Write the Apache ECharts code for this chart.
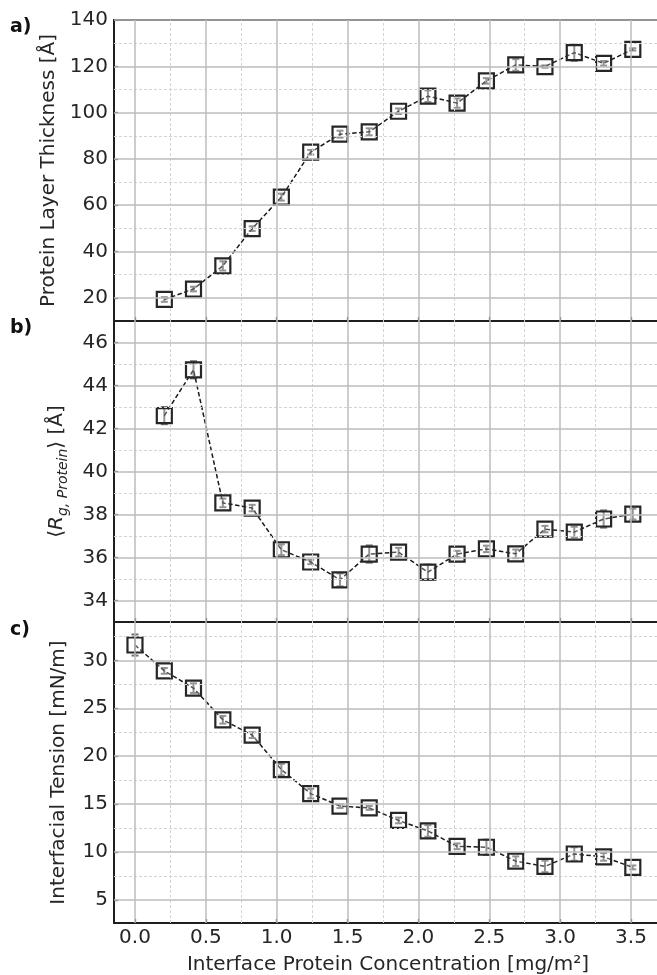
<!DOCTYPE html>
<html>
<head>
<meta charset="utf-8">
<script src="https://cdn.jsdelivr.net/npm/echarts@6/dist/echarts.min.js"></script>
<style>
html,body{margin:0;padding:0;background:#fff;}
#chart{width:657px;height:975px;}
</style>
</head>
<body>
<div id="chart"></div>
<script>
// ---- data ----
const concentrationAB = [0.207,0.413,0.620,0.827,1.033,1.240,1.447,1.653,1.860,2.067,2.273,2.480,2.687,2.893,3.100,3.307,3.513];
const concentrationC = [0.0,0.207,0.413,0.620,0.827,1.033,1.240,1.447,1.653,1.860,2.067,2.273,2.480,2.687,2.893,3.100,3.307,3.513];

const thickness    = [19.3,23.8,33.8,49.9,63.5,82.9,90.7,91.7,100.6,107.1,104.1,113.7,120.6,119.9,125.9,121.3,127.3];
const thicknessErr = [1.0,1.0,2.0,1.0,1.5,1.0,1.5,1.5,1.2,2.5,2.0,1.2,2.5,0.5,3.5,1.0,0.5];

const radius    = [42.60,44.73,38.54,38.30,36.36,35.79,34.96,36.16,36.25,35.32,36.16,36.40,36.17,37.32,37.18,37.79,38.02];
const radiusErr = [0.4,0.4,0.2,0.15,0.25,0.1,0.3,0.4,0.2,0.35,0.15,0.15,0.2,0.15,0.25,0.4,0.25];

const tension    = [31.6,28.9,27.1,23.8,22.2,18.6,16.1,14.8,14.6,13.3,12.2,10.6,10.5,9.05,8.5,9.8,9.5,8.4];
const tensionErr = [1.1,0.3,0.5,0.4,0.3,0.6,0.5,0.2,0.2,0.3,0.6,0.3,0.8,0.5,0.6,0.7,0.4,0.2];

// ---- ticks ----
const xTicks = [0,0.5,1.0,1.5,2.0,2.5,3.0,3.5];
const xMinor = [0.25,0.75,1.25,1.75,2.25,2.75,3.25];
const aTicks = [20,40,60,80,100,120,140];
const aMinor = [30,50,70,90,110,130];
const bTicks = [34,36,38,40,42,44,46];
const bMinor = [35,37,39,41,43,45];
const cTicks = [5,10,15,20,25,30];
const cMinor = [7.5,12.5,17.5,22.5,27.5,32.5];

const FONT = 'DejaVu Sans';
const TXT = '#262626';
const FS = 20;

const gridsPos = [
  {left:114, right:-5, top:20,  height:301},
  {left:114, right:-5, top:321, height:301},
  {left:114, right:-5, top:622, height:301}
];
const grids = gridsPos.map(g => Object.assign({show:true, borderColor:'#1e1e1e', borderWidth:2,
  backgroundColor:'transparent', outerBoundsMode:'none', containLabel:false}, g));

const XMIN = -0.148, XMAX = 3.719;
const SPINE = {show:true, onZero:false, lineStyle:{color:'#1e1e1e', width:2}};

function xAxisFor(i, bottom){
  return {
    type:'value', gridIndex:i, min:XMIN, max:XMAX, position:'bottom',
    axisLine:SPINE,
    splitLine:{show:false},
    axisTick:{show:true, inside:true, length:4, customValues:xTicks, lineStyle:{color:TXT, width:1.2}},
    axisLabel:{show:bottom, customValues:xTicks, formatter:v=>Number(v).toFixed(1),
      fontFamily:FONT, fontSize:FS, color:TXT, margin:5},
    name: bottom ? 'Interface Protein Concentration [mg/m²]' : '',
    nameLocation:'middle', nameGap:32,
    nameTextStyle:{fontFamily:FONT, fontSize:FS, color:TXT}
  };
}
function yAxisFor(i, min, max, ticks, name, gap, extra){
  return Object.assign({
    type:'value', gridIndex:i, min:min, max:max, position:'left',
    axisLine:SPINE,
    splitLine:{show:false},
    axisTick:{show:true, inside:true, length:4, customValues:ticks, lineStyle:{color:TXT, width:1.2}},
    axisLabel:{customValues:ticks, fontFamily:FONT, fontSize:FS, color:TXT, margin:6},
    name:name, nameLocation:'middle', nameGap:gap, nameRotate:90,
    nameTextStyle:{fontFamily:FONT, fontSize:FS, color:TXT}
  }, extra || {});
}

function gridLines(i, yMajor, yMinor){
  const major = {color:'#bdbdbd', width:1.5, type:'solid'};
  const minor = {color:'#d4d4d4', width:1, type:[3,2]};
  const data = [];
  xMinor.forEach(v => data.push({xAxis:v, lineStyle:minor}));
  yMinor.forEach(v => data.push({yAxis:v, lineStyle:minor}));
  xTicks.forEach(v => data.push({xAxis:v, lineStyle:major}));
  yMajor.forEach(v => data.push({yAxis:v, lineStyle:major}));
  return {
    type:'line', xAxisIndex:i, yAxisIndex:i, data:[], z:1, silent:true,
    markLine:{silent:true, symbol:['none','none'], label:{show:false}, animation:false, data:data}
  };
}

function renderErr(params, api){
  const x = api.value(0), lo = api.value(1), hi = api.value(2);
  const p1 = api.coord([x, lo]), p2 = api.coord([x, hi]);
  const w = 3.5;
  const st = {stroke:'#707070', lineWidth:2};
  return {type:'group', children:[
    {type:'line', shape:{x1:p1[0], y1:p1[1], x2:p2[0], y2:p2[1]}, style:st},
    {type:'line', shape:{x1:p1[0]-w, y1:p1[1], x2:p1[0]+w, y2:p1[1]}, style:st},
    {type:'line', shape:{x1:p2[0]-w, y1:p2[1], x2:p2[0]+w, y2:p2[1]}, style:st}
  ]};
}
function errSeries(i, xs, vals, errs){
  return {
    type:'custom', xAxisIndex:i, yAxisIndex:i, z:3, silent:true,
    renderItem:renderErr, encode:{x:0, y:[1,2]},
    data: vals.map((v,k)=>[xs[k], v-errs[k], v+errs[k]])
  };
}
function lineSeries(i, xs, vals){
  return {
    type:'line', xAxisIndex:i, yAxisIndex:i, z:4,
    data: vals.map((v,k)=>[xs[k], v]),
    symbol:'rect', symbolSize:15, showAllSymbol:true,
    itemStyle:{color:'rgba(255,255,255,0.25)', borderColor:'#262626', borderWidth:2.2},
    lineStyle:{color:'#1a1a1a', width:1.5, type:[4.5,2.5]}
  };
}

const option = {
  animation:false,
  backgroundColor:'#ffffff',
  grid: grids,
  xAxis:[xAxisFor(0,false), xAxisFor(1,false), xAxisFor(2,true)],
  yAxis:[
    yAxisFor(0, 10, 140, aTicks, 'Protein Layer Thickness [Å]', 46),
    yAxisFor(1, 33, 47, bTicks, '{n|⟨}{i|R}{s|g, Protein}{n|⟩ [Å]}', 44, {
      nameTextStyle:{fontFamily:FONT, fontSize:FS, color:TXT,
        rich:{
          n:{fontFamily:FONT, fontSize:FS, color:TXT, lineHeight:26},
          i:{fontFamily:FONT, fontSize:FS, color:TXT, fontStyle:'italic', lineHeight:26},
          s:{fontFamily:FONT, fontSize:14, color:TXT, fontStyle:'italic', lineHeight:14, verticalAlign:'bottom'}
        }}
    }),
    yAxisFor(2, 2.6, 34, cTicks, 'Interfacial Tension [mN/m]', 45)
  ],
  graphic:[
    {type:'text', left:10, top:18, style:{text:'a)', font:'bold 19px "DejaVu Sans"', fill:'#111'}},
    {type:'text', left:10, top:319, style:{text:'b)', font:'bold 19px "DejaVu Sans"', fill:'#111'}},
    {type:'text', left:10, top:621, style:{text:'c)', font:'bold 19px "DejaVu Sans"', fill:'#111'}}
  ],
  series:[
    gridLines(0, aTicks, aMinor),
    gridLines(1, bTicks, bMinor),
    gridLines(2, cTicks, cMinor),
    errSeries(0, concentrationAB, thickness, thicknessErr),
    errSeries(1, concentrationAB, radius, radiusErr),
    errSeries(2, concentrationC, tension, tensionErr),
    lineSeries(0, concentrationAB, thickness),
    lineSeries(1, concentrationAB, radius),
    lineSeries(2, concentrationC, tension)
  ]
};
const chart = echarts.init(document.getElementById('chart'), null, {renderer:'canvas'});
chart.setOption(option);
</script>
</body>
</html>
